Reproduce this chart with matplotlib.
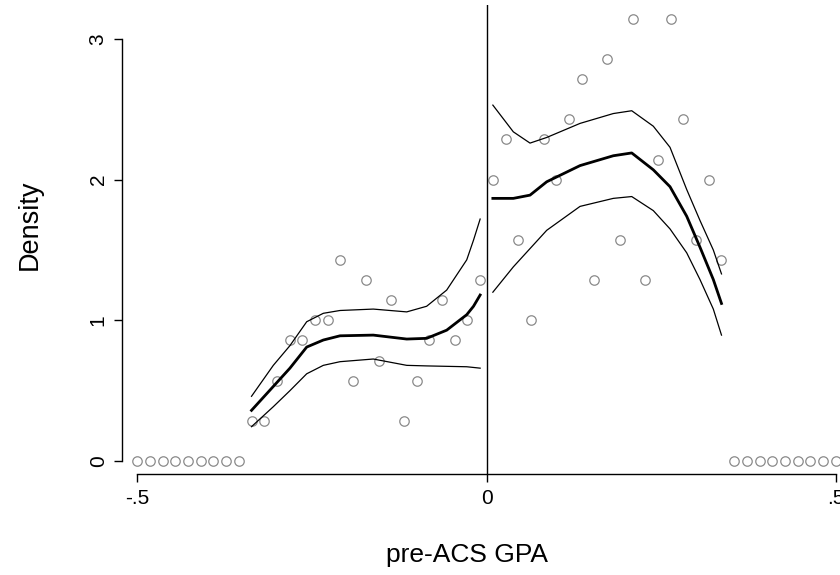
import numpy as np
import matplotlib.pyplot as plt

plt.rcParams['font.family'] = ['Liberation Sans', 'DejaVu Sans']

# histogram of the running variable, 28 bins on each side of the cutoff
bin_width = 1 / 55
n_obs = 385
counts_left = [0, 0, 0, 0, 0, 0, 0, 0, 0,
               2, 2, 4, 6, 6, 7, 7, 10, 4, 9, 5, 8, 2, 4, 6, 8, 6, 7, 9]
counts_right = [14, 16, 11, 7, 16, 14, 17, 19, 9, 20, 11, 22, 9, 15, 22, 17, 11, 14, 10,
                0, 0, 0, 0, 0, 0, 0, 0, 0]

# local linear density fit and 95% band, left of cutoff
fit_x_left = [-0.3364, -0.3052, -0.2814, -0.2574, -0.2336, -0.2097, -0.1621,
              -0.1142, -0.0857, -0.0570, -0.0283, -0.0186, -0.0091]
fit_left = [0.36, 0.53, 0.66, 0.81, 0.86, 0.89, 0.895, 0.867, 0.872, 0.93, 1.04, 1.10, 1.18]
hi_left = [0.46, 0.68, 0.82, 0.99, 1.05, 1.07, 1.08, 1.06, 1.10, 1.215, 1.43, 1.57, 1.72]
lo_left = [0.244, 0.386, 0.50, 0.62, 0.68, 0.706, 0.725, 0.68, 0.676, 0.673, 0.67, 0.665, 0.66]

# same, right of cutoff
fit_x_right = [0.0091, 0.0384, 0.0623, 0.0862, 0.1339, 0.1815, 0.2079, 0.2388,
               0.2627, 0.2866, 0.3056, 0.3247, 0.3364]
fit_right = [1.867, 1.867, 1.89, 1.985, 2.10, 2.17, 2.19, 2.07, 1.95, 1.74, 1.52, 1.29, 1.12]
hi_right = [2.53, 2.34, 2.26, 2.30, 2.40, 2.47, 2.49, 2.38, 2.23, 1.93, 1.71, 1.50, 1.33]
lo_right = [1.20, 1.38, 1.51, 1.64, 1.81, 1.867, 1.88, 1.78, 1.65, 1.48, 1.29, 1.08, 0.895]

xticks = [-0.5, 0, 0.5]
xticklabels = ['-.5', '0', '.5']
yticks = [0, 1, 2, 3]

nb = len(counts_left)
centers_left = -(np.arange(nb)[::-1] + 0.5) * bin_width
centers_right = (np.arange(nb) + 0.5) * bin_width
dens_left = np.array(counts_left) / (n_obs * bin_width)
dens_right = np.array(counts_right) / (n_obs * bin_width)

fig = plt.figure(figsize=(8.4, 5.75), dpi=100)
ax = fig.add_axes([122 / 840, 101 / 575, 729 / 840, 469 / 575])

pt = dict(ls='none', marker='o', ms=6.8, mfc='none', mec='#8a8a8a', mew=0.9, clip_on=False)
ax.plot(centers_left, dens_left, **pt)
ax.plot(centers_right, dens_right, **pt)

for fx, f, lo, hi in [(fit_x_left, fit_left, lo_left, hi_left),
                      (fit_x_right, fit_right, lo_right, hi_right)]:
    ax.plot(fx, f, color='black', lw=2.0)
    ax.plot(fx, hi, color='black', lw=0.9)
    ax.plot(fx, lo, color='black', lw=0.9)

ax.axvline(0, color='black', lw=1.0)

ax.set_xlim(-0.5218, 0.5218)
ax.set_ylim(-0.0924, 3.2417)

for s in ['top', 'right']:
    ax.spines[s].set_visible(False)
ax.spines['left'].set_bounds(0, 3)
ax.spines['bottom'].set_bounds(-0.5, 0.5)
ax.spines['left'].set_linewidth(1.0)
ax.spines['bottom'].set_linewidth(1.0)

ax.set_xticks(xticks)
ax.set_xticklabels(xticklabels)
ax.set_yticks(yticks)
ax.tick_params(length=5.8, width=1.0, labelsize=15)
ax.tick_params(axis='x', pad=5)
ax.tick_params(axis='y', labelrotation=90, pad=4.5)
for lab in ax.get_yticklabels():
    lab.set_va('center')

ax.set_xlabel('pre-ACS GPA', fontsize=19, va='center')
ax.xaxis.set_label_coords(0.473, -0.1727)
ax.set_ylabel('Density', fontsize=19.5, va='center')
ax.yaxis.set_label_coords(-0.1262, 0.532)

fig.savefig('out.png', dpi=100)
